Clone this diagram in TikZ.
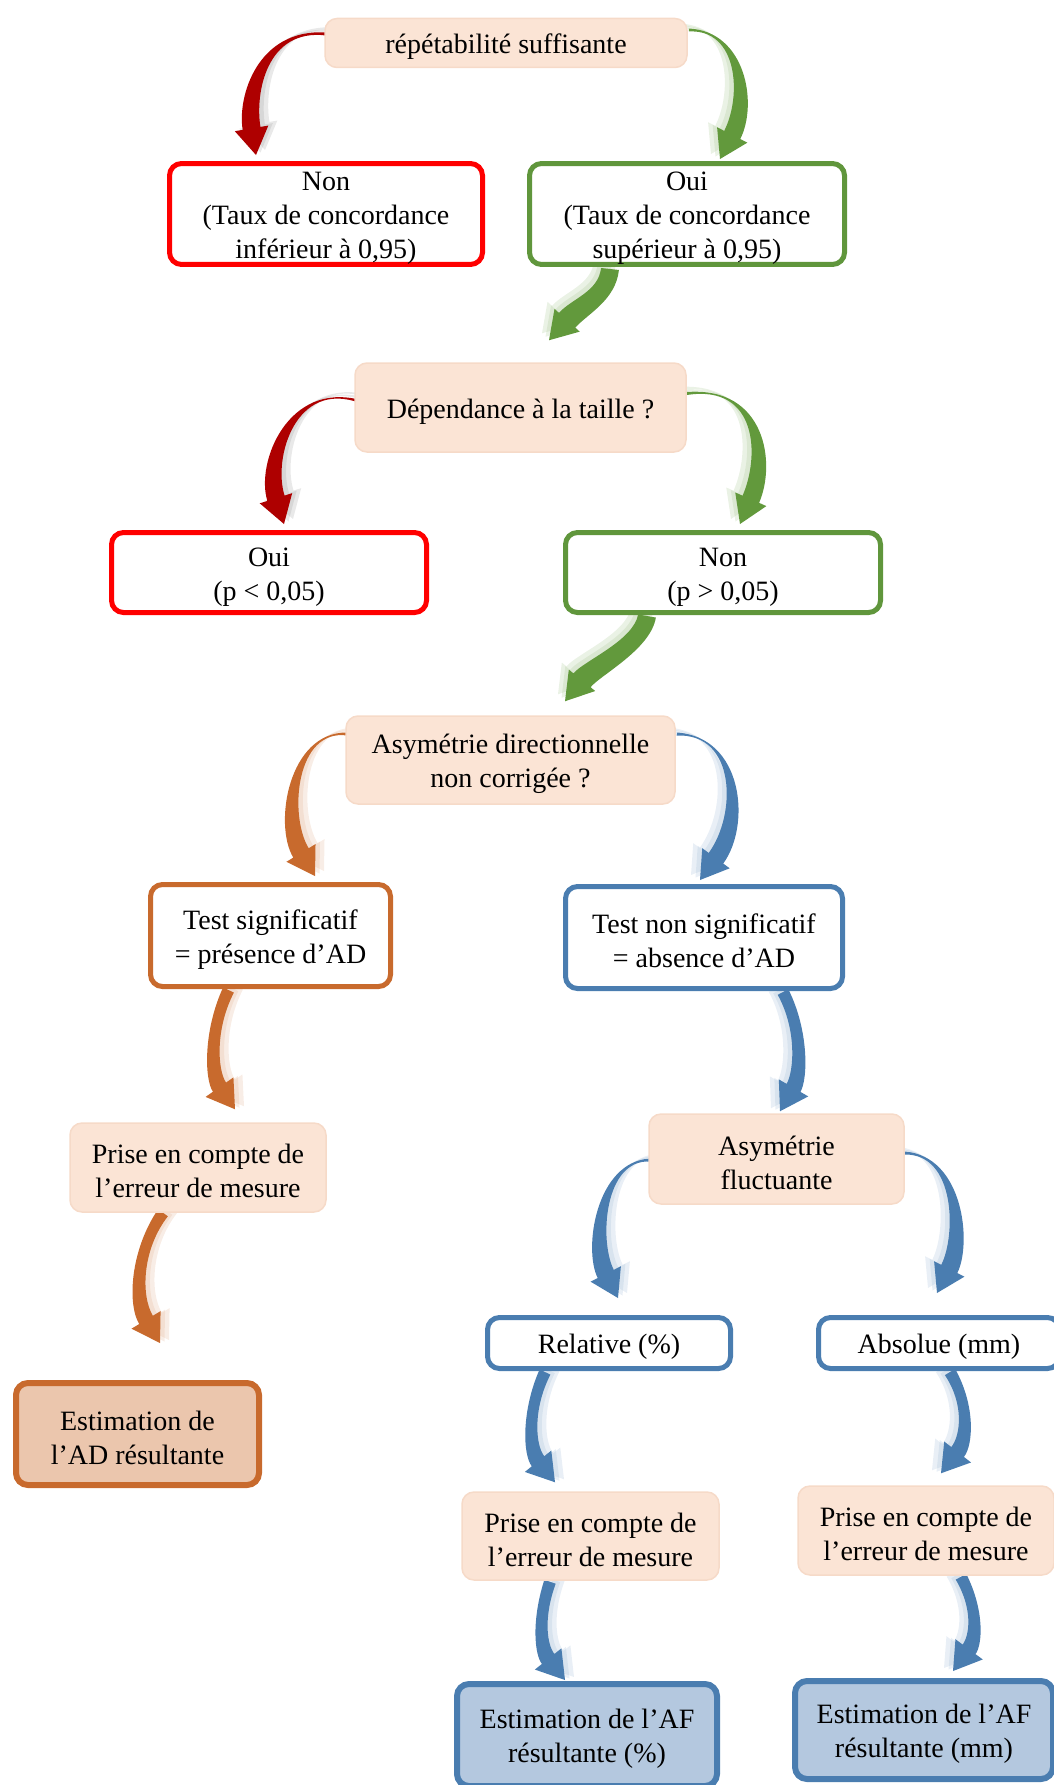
\documentclass[tikz,border=0pt]{standalone}
\usepackage{fontspec}
\setmainfont{Liberation Serif}
\usetikzlibrary{calc}
\pgfdeclarelayer{bg}
\pgfsetlayers{bg,main}
\definecolor{peach}{HTML}{FBE4D5}
\definecolor{peachedge}{RGB}{246,218,200}
\definecolor{redB}{HTML}{FF0000}
\definecolor{darkredA}{HTML}{AE0000}
\definecolor{greenB}{RGB}{96,150,60}
\definecolor{greenA}{RGB}{98,153,60}
\definecolor{orangeA}{RGB}{200,106,45}
\definecolor{blueA}{RGB}{74,125,176}
\definecolor{adfill}{HTML}{EBC6AD}
\definecolor{affill}{HTML}{B4C8DF}
\newcommand\tstrut{\rule{0pt}{27pt}}

\newcommand\fatarrow[9]{%
  \path (#4) coordinate (fa-S) (#5) coordinate (fa-A) (#6) coordinate (fa-B) (#7) coordinate (fa-T);
  \path ($(fa-T)!27pt!(fa-B)$) coordinate (fa-E);
  \path ($(fa-E)!17pt!90:(fa-T)$) coordinate (fa-HL)
        ($(fa-E)!17pt!-90:(fa-T)$) coordinate (fa-HR)
        ($(fa-E)!#9!90:(fa-T)$) coordinate (fa-EL)
        ($(fa-E)!#9!-90:(fa-T)$) coordinate (fa-ER)
        ($(fa-S)!#8!90:(fa-A)$) coordinate (fa-SL)
        ($(fa-S)!#8!-90:(fa-A)$) coordinate (fa-SR);
  \path ($(fa-B)+(fa-EL)-(fa-E)$) coordinate (fa-BL)
        ($(fa-B)+(fa-ER)-(fa-E)$) coordinate (fa-BR)
        ($(fa-A)+0.5*(fa-EL)-0.5*(fa-E)+0.5*(fa-SL)-0.5*(fa-S)$) coordinate (fa-AL)
        ($(fa-A)+0.5*(fa-ER)-0.5*(fa-E)+0.5*(fa-SR)-0.5*(fa-S)$) coordinate (fa-AR);
  \fill[#2, opacity=.22, transform canvas={shift={#3}}] (fa-SL) .. controls (fa-AL) and (fa-BL) .. (fa-EL) -- (fa-HL) -- (fa-T) -- (fa-HR) -- (fa-ER) .. controls (fa-BR) and (fa-AR) .. (fa-SR) -- cycle;
  \fill[#2, opacity=.22, transform canvas={shift={($0.5*#3$)}}] (fa-SL) .. controls (fa-AL) and (fa-BL) .. (fa-EL) -- (fa-HL) -- (fa-T) -- (fa-HR) -- (fa-ER) .. controls (fa-BR) and (fa-AR) .. (fa-SR) -- cycle;
  \fill[#1] (fa-SL) .. controls (fa-AL) and (fa-BL) .. (fa-EL) -- (fa-HL) -- (fa-T) -- (fa-HR) -- (fa-ER) .. controls (fa-BR) and (fa-AR) .. (fa-SR) -- cycle;
}

\tikzset{
  base/.style={rounded corners=12pt, align=center, inner sep=0pt, font=\fontsize{28}{34}\selectfont},
  qbox/.style={base, fill=peach, draw=peachedge, line width=1.5pt},
  redbox/.style={base, fill=white, draw=redB, line width=5pt},
  greenbox/.style={base, fill=white, draw=greenB, line width=5pt},
  orangebox/.style={base, fill=white, draw=orangeA, line width=5pt},
  bluebox/.style={base, fill=white, draw=blueA, line width=5pt},
  adbox/.style={base, fill=adfill, draw=orangeA, line width=6pt},
  afbox/.style={base, fill=affill, draw=blueA, line width=6pt}
}

\begin{document}
\begin{tikzpicture}[x=1pt,y=-1pt]
\useasboundingbox (0,0) rectangle (1054,1785);
\clip (0,0) rectangle (1054,1785);

\node[qbox, minimum width=362, minimum height=49] (rep) at (506,43) {\tstrut répétabilité suffisante};
\node[redbox, minimum width=313, minimum height=99] (non1) at (326,214) {\tstrut Non\\(Taux de concordance\\inférieur à 0,95)};
\node[greenbox, minimum width=315, minimum height=99] (oui1) at (687,214) {\tstrut Oui\\(Taux de concordance\\supérieur à 0,95)};
\node[qbox, minimum width=331, minimum height=89] (dep) at (520.5,407.5) {\tstrut Dépendance à la taille ?};
\node[redbox, minimum width=315, minimum height=80] (oui2) at (269,572.5) {\tstrut Oui\\(p < 0,05)};
\node[greenbox, minimum width=315, minimum height=80] (non2) at (723,572.5) {\tstrut Non\\(p > 0,05)};
\node[qbox, minimum width=329, minimum height=88] (asymdir) at (510.5,760) {\tstrut Asymétrie directionnelle\\non corrigée ?};
\node[orangebox, minimum width=240, minimum height=102] (tsig) at (270.5,935.5) {\tstrut Test significatif\\= présence d’AD};
\node[bluebox, minimum width=277, minimum height=102] (tnon) at (704,937.5) {\tstrut Test non significatif\\= absence d’AD};
\node[qbox, minimum width=256, minimum height=89] (prise1) at (198,1167.5) {\tstrut Prise en compte de\\l’erreur de mesure};
\node[qbox, minimum width=255, minimum height=90] (fluct) at (776.5,1159) {\tstrut Asymétrie\\fluctuante};
\node[adbox, minimum width=243, minimum height=102] (estAD) at (137.5,1434) {\tstrut Estimation de\\l’AD résultante};
\node[bluebox, minimum width=243, minimum height=51] (rel) at (609,1343) {\tstrut Relative (\%)};
\node[bluebox, minimum width=241, minimum height=51] (abs) at (939,1343) {\tstrut Absolue (mm)};
\node[qbox, minimum width=257, minimum height=88] (prise2) at (590.5,1536) {\tstrut Prise en compte de\\l’erreur de mesure};
\node[qbox, minimum width=256, minimum height=89] (prise3) at (926,1530.5) {\tstrut Prise en compte de\\l’erreur de mesure};
\node[afbox, minimum width=260, minimum height=102] (estAF1) at (587,1735) {\tstrut Estimation de l’AF\\résultante (\%)};
\node[afbox, minimum width=258, minimum height=98] (estAF2) at (924,1730) {\tstrut Estimation de l’AF\\résultante (mm)};

\begin{pgfonlayer}{bg}
\fatarrow{darkredA}{gray!80}{(9,-5)}{$(rep.west)+(2,-9)$}{262,28}{246,95}{$(non1.north)+(-70,-6)$}{1.5pt}{9pt}
\fatarrow{greenA}{greenA!60}{(-9,-5)}{$(rep.east)+(1,-13)$}{742,30}{750,100}{$(oui1.north)+(33,-2)$}{1.5pt}{9pt}
\fatarrow{greenA}{greenA!60}{(-7,-7)}{$(oui1.south)+(-77,2)$}{607,296}{580,306}{$(dep.north)+(28.5,-22)$}{9pt}{11pt}
\fatarrow{darkredA}{gray!80}{(9,-5)}{$(dep.west)+(6,-6)$}{292,380}{264,460}{$(oui2.north)+(15,-6)$}{1.5pt}{9pt}
\fatarrow{greenA}{greenA!60}{(-9,-5)}{$(dep.east)+(0,-14)$}{762,385}{768,460}{$(non2.north)+(17,-6)$}{1.5pt}{9pt}
\fatarrow{greenA}{greenA!60}{(-7,-7)}{$(non2.south)+(-76,1)$}{642,645}{592,668}{$(asymdir.north)+(54.5,-14)$}{9pt}{11pt}
\fatarrow{orangeA}{orangeA!55}{(9,-5)}{$(asymdir.west)+(2,-26)$}{292,730}{281,820}{$(tsig.north)+(44.5,-6)$}{1.5pt}{9pt}
\fatarrow{blueA}{blueA!55}{(-9,-5)}{$(asymdir.east)+(1,-26)$}{740,735}{744,820}{$(tnon.north)+(-4,-4)$}{1.5pt}{9pt}
\fatarrow{orangeA}{orangeA!55}{(9,-3)}{$(tsig.south)+(-42,1)$}{209,1030}{211,1075}{$(prise1.north)+(37,-13)$}{6pt}{8pt}
\fatarrow{blueA}{blueA!55}{(-9,-3)}{$(tnon.south)+(79,1)$}{803,1030}{801,1075}{$(fluct.north)+(3.5,-2)$}{6pt}{8pt}
\fatarrow{blueA}{blueA!55}{(9,-5)}{$(fluct.west)+(2,1)$}{600,1160}{591,1245}{$(rel.north)+(9,-17)$}{1.5pt}{9pt}
\fatarrow{blueA}{blueA!55}{(-9,-5)}{$(fluct.east)+(0,-6)$}{960,1155}{964,1240}{$(abs.north)+(-2,-22)$}{1.5pt}{9pt}
\fatarrow{orangeA}{orangeA!55}{(9,-3)}{$(prise1.south)+(-35,0)$}{136,1250}{134,1300}{$(estAD.north)+(22.5,-37)$}{6pt}{8pt}
\fatarrow{blueA}{blueA!55}{(9,-3)}{$(rel.south)+(-64,1)$}{527,1410}{529,1450}{$(prise2.north)+(-35.5,-9)$}{6pt}{8pt}
\fatarrow{blueA}{blueA!55}{(-9,-3)}{$(abs.south)+(11,1)$}{970,1405}{967,1440}{$(prise3.north)+(15,-12)$}{6pt}{8pt}
\fatarrow{blueA}{blueA!55}{(9,-3)}{$(prise2.south)+(-40.5,1)$}{537,1620}{541,1650}{$(estAF1.north)+(-22,-1)$}{6pt}{8pt}
\fatarrow{blueA}{blueA!55}{(-9,-3)}{$(prise3.south)+(35,1)$}{979,1610}{976,1640}{$(estAF2.north)+(29,-7)$}{6pt}{8pt}
\end{pgfonlayer}
\end{tikzpicture}
\end{document}
